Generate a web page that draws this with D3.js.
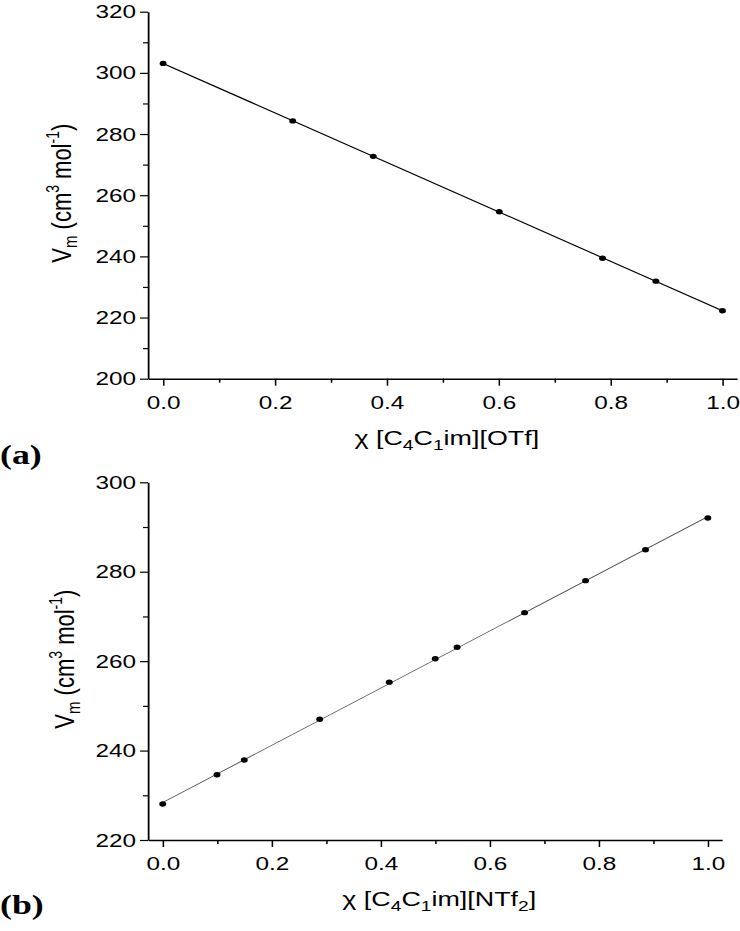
<!DOCTYPE html>
<html>
<head>
<meta charset="utf-8">
<script src="https://cdn.jsdelivr.net/npm/d3@7"></script>
<style>
  body { margin: 0; background: #fff; }
  svg text { font-family: "Liberation Sans", Arial, sans-serif; fill: #000; }
</style>
</head>
<body>
<svg id="chart"></svg>
<script>
// the original figure is stretched sideways, so draw in narrow units and stretch the svg
const STRETCH = 1.28;
const W = 740, H = 931;

// panel (a): [C4C1im][OTf] mixture
const otfX = [0, 0.2317, 0.3757, 0.601, 0.7856, 0.881, 1.0];
const otfV = [303.1, 284.3, 272.7, 254.6, 239.4, 231.9, 222.2];
const otfYMajor = [200, 220, 240, 260, 280, 300, 320];
const otfYMinor = [210, 230, 250, 270, 290, 310];

// panel (b): [C4C1im][NTf2] mixture
const ntfX = [0, 0.0996, 0.1496, 0.288, 0.4156, 0.4999, 0.540, 0.6638, 0.7757, 0.8857, 1.0];
const ntfV = [228.05, 234.6, 237.9, 247.0, 255.3, 260.55, 263.1, 270.85, 278.0, 284.9, 292.0];
const ntfYMajor = [220, 240, 260, 280, 300];
const ntfYMinor = [230, 250, 270, 290];

const xMajor = [0, 0.2, 0.4, 0.6, 0.8, 1.0];
const xMinor = [0.1, 0.3, 0.5, 0.7, 0.9];

const svg = d3.select('#chart')
    .attr('width', W)
    .attr('height', H)
    .attr('viewBox', `0 0 ${W / STRETCH} ${H}`)
    .attr('preserveAspectRatio', 'none');

// least squares line through the points
function fit(xs, ys) {
    const mx = d3.mean(xs), my = d3.mean(ys);
    let sxy = 0, sxx = 0;
    xs.forEach((x, i) => { sxy += (x - mx) * (ys[i] - my); sxx += (x - mx) * (x - mx); });
    const b = sxy / sxx;
    return x => my + b * (x - mx);
}

function drawPanel(p) {
    const g = svg.append('g');

    const x = d3.scaleLinear()
        .domain([-0.027, 1.026])
        .range([p.left / STRETCH, p.right / STRETCH]);
    const y = d3.scaleLinear()
        .domain(p.yDomain)
        .range([p.bottom, p.top]);

    // x axis
    g.append('g')
        .attr('transform', `translate(0,${p.bottom})`)
        .call(d3.axisBottom(x).tickValues(xMajor).tickSize(7).tickSizeOuter(0)
            .tickPadding(10).tickFormat(d3.format('.1f')))
        .call(a => a.selectAll('text').attr('font-size', 19).attr('font-family', null));
    g.append('g')
        .attr('transform', `translate(0,${p.bottom})`)
        .call(d3.axisBottom(x).tickValues(xMinor).tickSize(4).tickFormat(''))
        .call(a => a.select('.domain').remove());

    // y axis
    g.append('g')
        .attr('transform', `translate(${p.left / STRETCH},0)`)
        .call(d3.axisLeft(y).tickValues(p.yMajor).tickSize(6.2).tickSizeOuter(0).tickPadding(3.2))
        .call(a => a.selectAll('text').attr('font-size', 19).attr('font-family', null));
    g.append('g')
        .attr('transform', `translate(${p.left / STRETCH},0)`)
        .call(d3.axisLeft(y).tickValues(p.yMinor).tickSize(3.9).tickFormat(''))
        .call(a => a.select('.domain').remove());

    g.selectAll('.domain').attr('stroke-width', 1.4);
    g.selectAll('.tick line').attr('stroke-width', 1.2);

    // fitted line
    const f = fit(p.xs, p.vs);
    g.append('path')
        .datum([0, 1])
        .attr('fill', 'none')
        .attr('stroke', p.lineColor)
        .attr('stroke-width', p.lineWidth)
        .attr('d', d3.line().x(d => x(d)).y(d => y(f(d))));

    // points
    g.selectAll('circle')
        .data(p.xs.map((d, i) => [d, p.vs[i]]))
        .join('circle')
        .attr('cx', d => x(d[0]))
        .attr('cy', d => y(d[1]))
        .attr('r', 2.7)
        .attr('fill', '#000');

    // x title
    const xt = g.append('text')
        .attr('x', x(0.5) + 4 / STRETCH)
        .attr('y', p.bottom + 66)
        .attr('text-anchor', 'middle')
        .attr('font-size', 21);
    p.xTitle.forEach(part => {
        const t = xt.append('tspan').text(part.t);
        if (part.sub) t.attr('font-size', 15).attr('dy', 5);
        if (part.back) t.attr('dy', -5);
    });

    // y title
    const yt = g.append('text')
        .attr('transform', `translate(${p.yTitleX / STRETCH},${(p.top + p.bottom) / 2 - 2}) rotate(-90)`)
        .attr('text-anchor', 'middle')
        .attr('font-size', 22);
    yt.append('tspan').text('V');
    yt.append('tspan').text('m').attr('font-size', 15).attr('dy', 5);
    yt.append('tspan').text(' (cm').attr('dy', -5);
    yt.append('tspan').text('3').attr('font-size', 14).attr('dy', -9);
    yt.append('tspan').text(' mol').attr('dy', 9);
    yt.append('tspan').text('-1').attr('font-size', 14).attr('dy', -9);
    yt.append('tspan').text(')').attr('dy', 9);

    // panel letter
    svg.append('text')
        .attr('x', 0)
        .attr('y', p.letterY)
        .attr('font-size', 28)
        .attr('font-weight', 'bold')
        .style('font-family', '"Liberation Serif", "Times New Roman", serif')
        .text(p.letter);
}

drawPanel({
    xs: otfX, vs: otfV,
    yDomain: [200, 320], yMajor: otfYMajor, yMinor: otfYMinor,
    left: 148, right: 737, top: 11.7, bottom: 378.7,
    lineColor: '#000', lineWidth: 1.1,
    yTitleX: 71,
    xTitle: [{t: 'χ [C'}, {t: '4', sub: true}, {t: 'C', back: true}, {t: '1', sub: true}, {t: 'im][OTf]', back: true}],
    letter: '(a)', letterY: 464
});

drawPanel({
    xs: ntfX, vs: ntfV,
    yDomain: [220, 300], yMajor: ntfYMajor, yMinor: ntfYMinor,
    left: 148, right: 722, top: 482.3, bottom: 840,
    lineColor: '#444', lineWidth: 0.8,
    yTitleX: 74,
    xTitle: [{t: 'χ [C'}, {t: '4', sub: true}, {t: 'C', back: true}, {t: '1', sub: true}, {t: 'im][NTf', back: true}, {t: '2', sub: true}, {t: ']', back: true}],
    letter: '(b)', letterY: 914
});
</script>
</body>
</html>
